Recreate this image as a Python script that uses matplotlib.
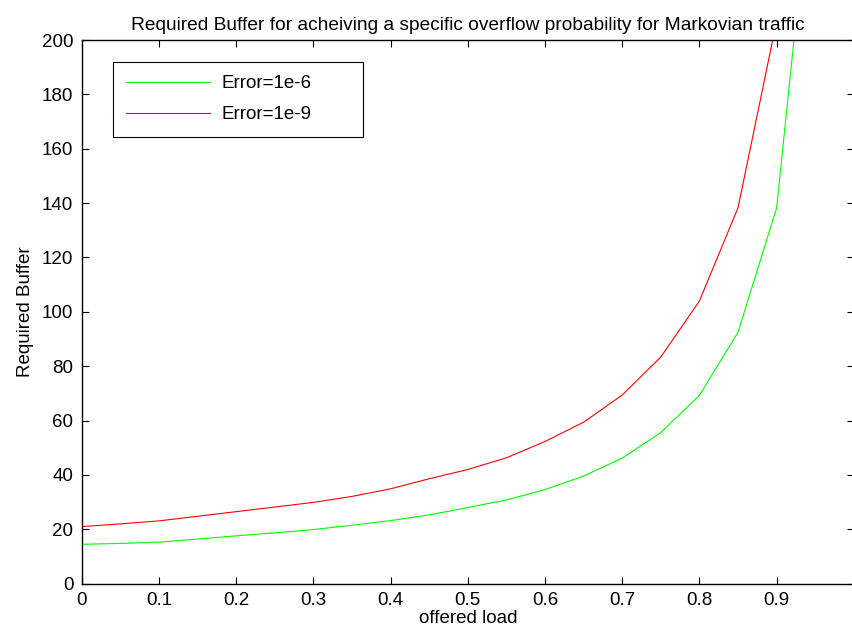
import matplotlib
matplotlib.use("Agg")
import matplotlib.pyplot as plt

plt.rcParams['font.family'] = ['Liberation Sans', 'DejaVu Sans']

# offered load and required buffer
load = [0.0, 0.05, 0.1, 0.15, 0.2, 0.25, 0.3, 0.35, 0.4, 0.45, 0.5,
        0.55, 0.6, 0.65, 0.7, 0.75, 0.8, 0.85, 0.9, 0.95]
buf_1e6 = [14.5, 14.8, 15.3, 16.4, 17.6, 18.7, 19.9, 21.5, 23.2, 25.3, 28.0,
           30.8, 34.6, 39.6, 46.2, 55.6, 69.3, 92.5, 138.3, 276.0]
buf_1e9 = [21.0, 22.0, 23.1, 24.8, 26.5, 28.2, 29.9, 32.1, 34.9, 38.6, 42.0,
           46.3, 52.3, 59.4, 69.4, 83.4, 104.0, 138.3, 207.0, 414.0]

fs = 13.5

fig = plt.figure(figsize=(8.52, 6.37), dpi=100)
ax = fig.add_axes([0.0959, 0.0837, 0.9063, 0.8535])

ax.plot(load, buf_1e6, color=(0, 1, 0), lw=0.8, label='Error=1e-6')
ax.plot(load, buf_1e9, color=(1, 0, 0), lw=0.8, label='Error=1e-9')

ax.set_xlim(0, 1)
ax.set_ylim(0, 200)
ax.set_xticks([0, 0.1, 0.2, 0.3, 0.4, 0.5, 0.6, 0.7, 0.8, 0.9])
ax.set_xticklabels(['0', '0.1', '0.2', '0.3', '0.4', '0.5', '0.6', '0.7', '0.8', '0.9'])
ax.set_yticks(range(0, 201, 20))
ax.tick_params(direction='in', length=5, width=0.8, top=True, right=True,
               labelsize=fs, pad=6)
for s in ax.spines.values():
    s.set_linewidth(1.0)

ax.set_title('Required Buffer for acheiving a specific overflow probability for Markovian traffic',
             fontsize=13.8, pad=7)
ax.set_xlabel('offered load', fontsize=fs, labelpad=1)
ax.set_ylabel('Required Buffer', fontsize=fs, labelpad=6)

# matlab-style legend box, wider than its contents
leg = ax.legend(loc='upper left', bbox_to_anchor=(0.0405, 0.8, 0.3237, 0.1595),
                mode='expand', fontsize=fs,
                fancybox=False, framealpha=1, edgecolor='black',
                handlelength=4.45, handletextpad=0.66, borderpad=0.7,
                labelspacing=0.75, borderaxespad=0)
leg.get_frame().set_linewidth(0.8)

fig.savefig('out.png', dpi=100)
